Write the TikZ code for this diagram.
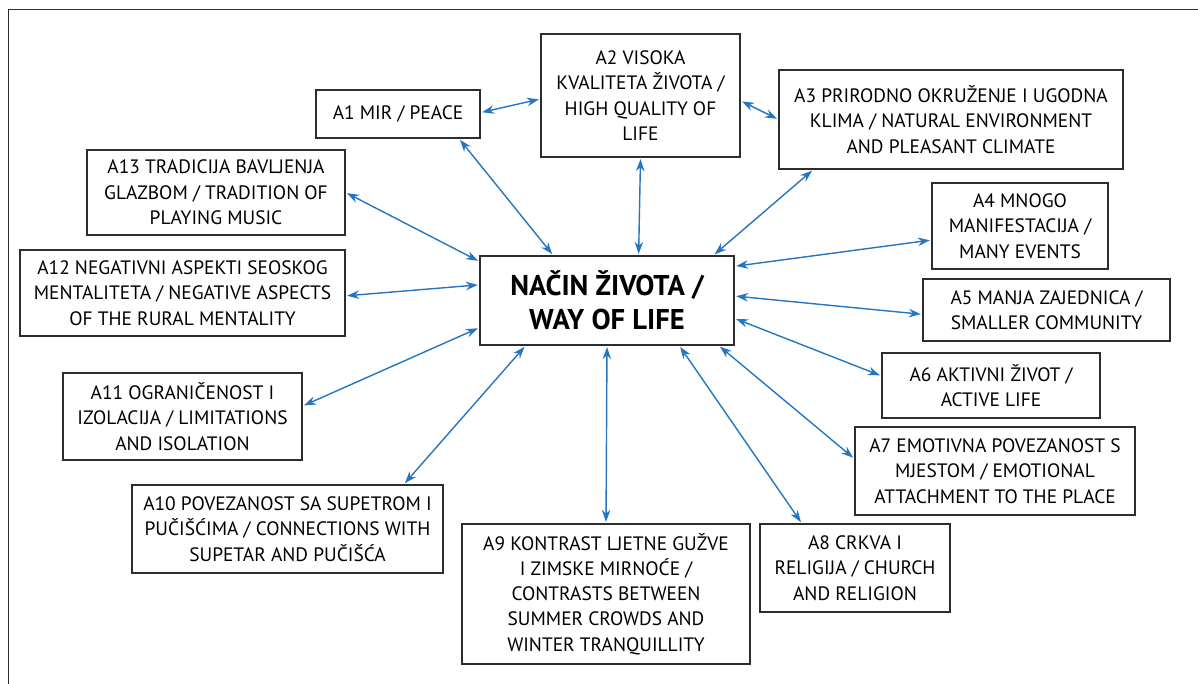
\documentclass[tikz,border=0pt]{standalone}
\usepackage{fontspec}
\setmainfont{PT Sans}
\usetikzlibrary{arrows,arrows.meta,calc}
\definecolor{boxgray}{RGB}{45,45,45}
\definecolor{linkblue}{RGB}{36,117,194}

\begin{document}
\begin{tikzpicture}[
   x=1pt, y=-1pt,
   theme/.style={
       draw=boxgray, line width=1.3pt, align=center, inner sep=0pt,
       font=\fontsize{19.4}{25.3}\selectfont
     },
   core/.style={
       theme,
       font=\bfseries\fontsize{28.6}{34}\selectfont
     },
   link/.style={
       <->, >={Stealth[length=12pt,width=8.5pt]},
       draw=linkblue, line width=1.4pt,
       shorten <=1.5pt, shorten >=1.5pt
     }
  ]
  \useasboundingbox (0,0) rectangle (1198,684);
  \draw [boxgray, line width=1pt] (8,684) -- (8,10) -- (1198,10);

  % central theme
  \node [core, minimum width=254pt, minimum height=89pt] (life) at (607,300.5) {NAČIN ŽIVOTA /\\WAY OF LIFE};

  % sub-themes
  \node [theme, minimum width=164pt, minimum height=48pt] (a1) at (398,114) {A1 MIR / PEACE};
  \node [theme, minimum width=199pt, minimum height=123pt] (a2) at (640.5,95.5) {A2 VISOKA\\KVALITETA ŽIVOTA /\\HIGH QUALITY OF\\LIFE};
  \node [theme, minimum width=344pt, minimum height=99pt] (a3) at (951,119.5) {A3 PRIRODNO OKRUŽENJE I UGODNA\\KLIMA / NATURAL ENVIRONMENT\\AND PLEASANT CLIMATE};
  \node [theme, minimum width=176pt, minimum height=86pt] (a4) at (1020,226) {A4 MNOGO\\MANIFESTACIJA /\\MANY EVENTS};
  \node [theme, minimum width=247pt, minimum height=62pt] (a5) at (1046.5,310) {A5 MANJA ZAJEDNICA /\\SMALLER COMMUNITY};
  \node [theme, minimum width=218pt, minimum height=65pt] (a6) at (991,385.5) {A6 AKTIVNI ŽIVOT /\\ACTIVE LIFE};
  \node [theme, minimum width=280pt, minimum height=88pt] (a7) at (995,471) {A7 EMOTIVNA POVEZANOST S\\MJESTOM / EMOTIONAL\\ATTACHMENT TO THE PLACE};
  \node [theme, minimum width=190pt, minimum height=88pt] (a8) at (855,568) {A8 CRKVA I\\RELIGIJA / CHURCH\\AND RELIGION};
  \node [theme, minimum width=288pt, minimum height=140pt] (a9) at (606,594) {A9 KONTRAST LJETNE GUŽVE\\I ZIMSKE MIRNOĆE /\\CONTRASTS BETWEEN\\SUMMER CROWDS AND\\WINTER TRANQUILLITY};
  \node [theme, minimum width=311pt, minimum height=88pt] (a10) at (287.5,529) {A10 POVEZANOST SA SUPETROM I\\PUČIŠĆIMA / CONNECTIONS WITH\\SUPETAR AND PUČIŠĆA};
  \node [theme, minimum width=239pt, minimum height=87pt] (a11) at (182.5,416.5) {A11 OGRANIČENOST I\\IZOLACIJA / LIMITATIONS\\AND ISOLATION};
  \node [theme, minimum width=325pt, minimum height=86pt] (a12) at (182.5,293) {A12 NEGATIVNI ASPEKTI SEOSKOG\\MENTALITETA / NEGATIVE ASPECTS\\OF THE RURAL MENTALITY};
  \node [theme, minimum width=258pt, minimum height=85pt] (a13) at (216,192.5) {A13 TRADICIJA BAVLJENJA\\GLAZBOM / TRADITION OF\\PLAYING MUSIC};

  % links
  \draw [link] (a1.1) -- (a2.-178);
  \draw [link] (a2.-3) -- (a3.180);
  \draw [link] (a1.-22) -- (life.140);
  \draw [link] (a2.-90) -- (life.55);
  \draw [link] (a3.-160) -- (life.23);
  \draw [link] (a4.-171) -- (life.15);
  \draw [link] (a5.-178) -- (life.2);
  \draw [link] (a6.175) -- (life.-8);
  \draw [link] (a7.175) -- (life.-22);
  \draw [link] (a8.140) -- (life.-32);
  \draw [link] (a9.90) -- (life.-90);
  \draw [link] (a10.21) -- (life.-151);
  \draw [link] (a11.5) -- (life.-168);
  \draw [link] (a12.-1) -- (life.173);
  \draw [link] (a13.0) -- (life.163);
\end{tikzpicture}
\end{document}
